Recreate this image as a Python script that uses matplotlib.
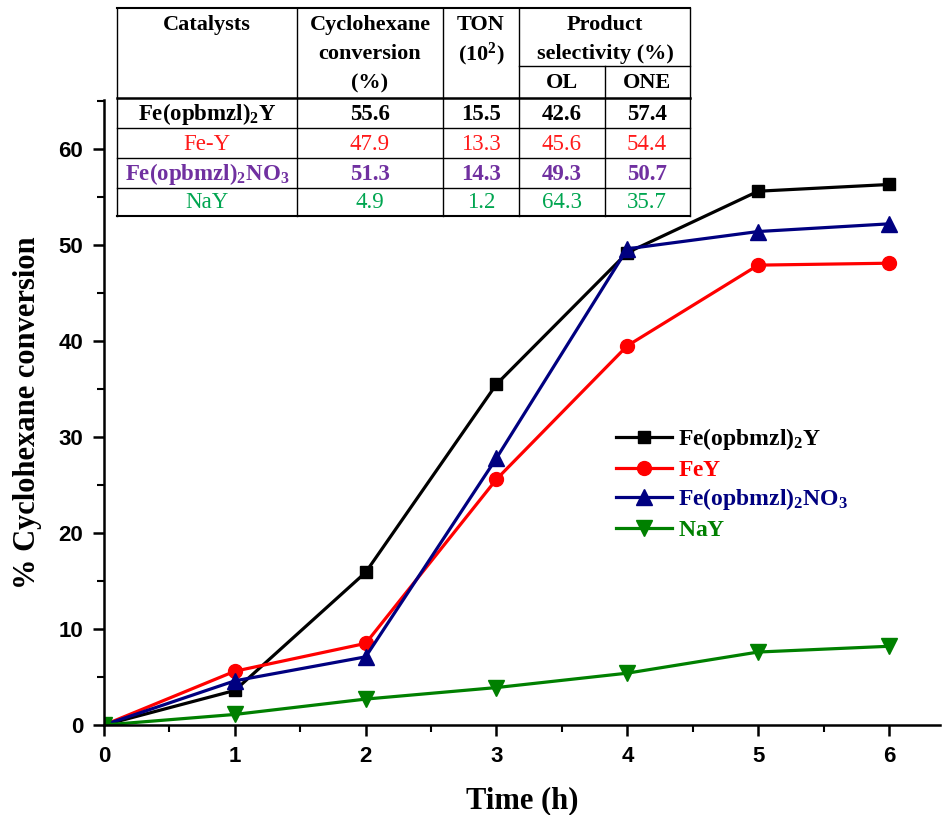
import matplotlib
matplotlib.use("Agg")
import matplotlib.pyplot as plt
from matplotlib.lines import Line2D
from matplotlib.ticker import MultipleLocator

# --- data: cyclohexane conversion (%) vs reaction time (h) ---
time_h = [0, 1, 2, 3, 4, 5, 6]
conv_fe_opbmzl_y = [0, 3.6, 15.9, 35.5, 49.2, 55.6, 56.3]
conv_fey = [0, 5.6, 8.5, 25.6, 39.5, 47.9, 48.1]
conv_fe_opbmzl_no3 = [0, 4.6, 7.1, 27.8, 49.6, 51.4, 52.2]
conv_nay = [0, 1.1, 2.7, 3.9, 5.4, 7.6, 8.2]

# --- summary table values ---
table_catalysts = [r"$\mathbf{Fe(opbmzl)_2Y}$", "Fe-Y",
                   r"$\mathbf{Fe(opbmzl)_2NO_3}$", "NaY"]
table_conversion = ["55.6", "47.9", "51.3", "4.9"]
table_ton = ["15.5", "13.3", "14.3", "1.2"]
table_ol = ["42.6", "45.6", "49.3", "64.3"]
table_one = ["57.4", "54.4", "50.7", "35.7"]
table_colors = ["black", "#ff1a1a", "#7030a0", "#00a550"]
table_weights = ["bold", "normal", "bold", "normal"]

plt.rcParams["mathtext.fontset"] = "custom"
plt.rcParams["mathtext.rm"] = "Liberation Serif"
plt.rcParams["mathtext.bf"] = "Liberation Serif:bold"
plt.rcParams["mathtext.it"] = "Liberation Serif:italic"

W, H = 946, 815
fig = plt.figure(figsize=(W / 100, H / 100), dpi=100)
ax = fig.add_axes([104 / W, 1 - 725 / H, (940 - 104) / W, (725 - 100) / H])

lw, ms = 2.3, 10
ax.plot(time_h, conv_fe_opbmzl_y, color="black", marker="s", lw=lw, ms=ms - 1,
        label=r"$\mathbf{Fe(opbmzl)_2Y}$")
ax.plot(time_h, conv_fey, color="#ff0000", marker="o", lw=lw, ms=ms,
        label=r"$\mathbf{FeY}$")
ax.plot(time_h, conv_fe_opbmzl_no3, color="#000080", marker="^", lw=lw, ms=ms + 1,
        label=r"$\mathbf{Fe(opbmzl)_2NO_3}$")
ax.plot(time_h, conv_nay, color="#008000", marker="v", lw=lw, ms=ms + 1,
        label=r"$\mathbf{NaY}$")

ax.set_xlim(0, 6.39)
ax.set_ylim(0, 65.1)
ax.xaxis.set_major_locator(MultipleLocator(1))
ax.xaxis.set_minor_locator(MultipleLocator(0.5))
ax.yaxis.set_major_locator(MultipleLocator(10))
ax.yaxis.set_minor_locator(MultipleLocator(5))
for side in ("top", "right"):
    ax.spines[side].set_visible(False)
for side in ("left", "bottom"):
    ax.spines[side].set_linewidth(1.8)
ax.tick_params(which="major", direction="out", length=8, width=1.8, pad=7)
ax.tick_params(which="minor", direction="out", length=5, width=1.5)
for lab in ax.get_xticklabels() + ax.get_yticklabels():
    lab.set_family("Liberation Sans")
    lab.set_fontweight("bold")
    lab.set_fontsize(16)

ax.set_xlabel("Time (h)", family="Liberation Serif", fontweight="bold",
              fontsize=22, labelpad=14)
ax.set_ylabel("% Cyclohexane conversion", family="Liberation Serif",
              fontweight="bold", fontsize=22, labelpad=12)

leg = ax.legend(loc="upper left", bbox_to_anchor=(604 / W, 1 - 414 / H),
                bbox_transform=fig.transFigure, frameon=False, fontsize=17,
                handlelength=2.4, handletextpad=0.25, labelspacing=0.22,
                borderpad=0, labelcolor="linecolor")

# --- summary table drawn above the curves ---
def fx(px):
    return px / W


def fy(py):
    return 1 - py / H


col_x = [117, 297, 443, 519, 605, 690]
row_y = [8, 98, 128, 158, 188, 216]
sub_y = 66


def hline(y, x0, x1, width=1.0):
    fig.add_artist(Line2D([fx(x0), fx(x1)], [fy(y), fy(y)], color="black", lw=width))


def vline(x, y0, y1, width=1.0):
    fig.add_artist(Line2D([fx(x), fx(x)], [fy(y0), fy(y1)], color="black", lw=width))


hline(row_y[0], col_x[0], col_x[-1], 1.5)
hline(row_y[1], col_x[0], col_x[-1], 1.8)
for y in row_y[2:-1]:
    hline(y, col_x[0], col_x[-1])
hline(row_y[-1], col_x[0], col_x[-1], 1.5)
hline(sub_y, col_x[3], col_x[5])
for x in col_x:
    if x == col_x[4]:
        # OL / ONE divider only runs below the sub-header line
        vline(x, sub_y, row_y[-1])
    else:
        vline(x, row_y[0], row_y[-1])

hdr = dict(family="Liberation Serif", fontweight="bold", fontsize=16,
           ha="center", va="center", color="black")
fig.text(fx(207), fy(25), "Catalysts", **hdr)
fig.text(fx(370), fy(25), "Cyclohexane", **hdr)
fig.text(fx(370), fy(54), "conversion", **hdr)
fig.text(fx(370), fy(83), "(%)", **hdr)
fig.text(fx(481), fy(25), "TON", **hdr)
fig.text(fx(481), fy(54), r"$\mathbf{(10^2)}$", **hdr)
fig.text(fx(605), fy(25), "Product", **hdr)
fig.text(fx(605), fy(54), "selectivity (%)", **hdr)
fig.text(fx(562), fy(83), "OL", **hdr)
fig.text(fx(647), fy(83), "ONE", **hdr)

centers = [207, 370, 481, 562, 647]
for i in range(len(table_catalysts)):
    yc = (row_y[i + 1] + row_y[i + 2]) / 2 + 1
    cells = [table_catalysts[i], table_conversion[i], table_ton[i],
             table_ol[i], table_one[i]]
    for xc, txt in zip(centers, cells):
        fig.text(fx(xc), fy(yc), txt, family="Liberation Serif",
                 fontweight=table_weights[i], fontsize=16.5, ha="center",
                 va="center", color=table_colors[i])

fig.savefig("out.png", dpi=100)
